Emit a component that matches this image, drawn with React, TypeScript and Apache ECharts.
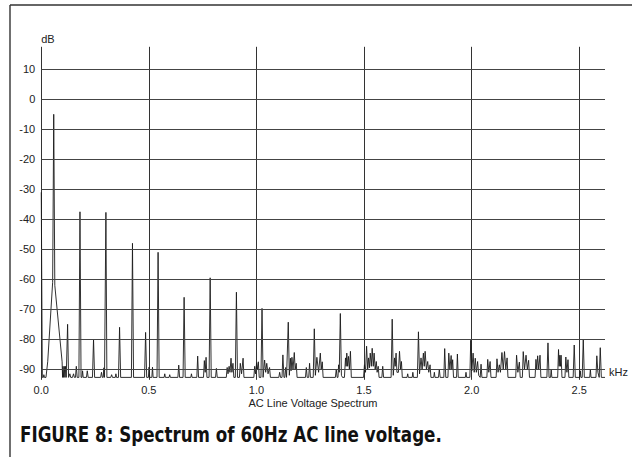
import React, { useEffect, useRef } from "react";
import * as echarts from "echarts";

// Axis ticks
const xTickStep = 0.5;
const xMax = 2.62;
const dbTicks = [10, 0, -10, -20, -30, -40, -50, -60, -70, -80, -90];
const dbMin = -93.5;
const dbMax = 17.5;

// Spectrum points [kHz, dB]
const band0to05: [number, number][] = [
  [0.0, -31], [0.005, -92.7], [0.01, -92.7], [0.012, -91.8], [0.015, -92.7], [0.022, -92.7],
  [0.03, -87.5], [0.053, -61], [0.058, -5], [0.063, -62], [0.097, -87.5], [0.099, -92.7],
  [0.101, -89], [0.104, -92.7], [0.107, -89], [0.11, -92.7], [0.113, -89], [0.116, -92.7],
  [0.118, -92.7], [0.1225, -75], [0.127, -92.7],
  [0.133, -91.5], [0.137, -92.7], [0.145, -92.7], [0.15, -91.5], [0.154, -92.7], [0.159, -92.7], [0.163, -89], [0.167, -92.7],
  [0.175, -92.7], [0.18, -37.5], [0.185, -92.7],
  [0.189, -92.7], [0.192, -90.5], [0.195, -92.7], [0.21, -92.7], [0.214, -90.5], [0.218, -92.7],
  [0.238, -92.7], [0.243, -80], [0.248, -92.7],
  [0.276, -92.7], [0.28, -91], [0.284, -92.7], [0.288, -92.7], [0.291, -89.5], [0.294, -92.7],
  [0.296, -92.7], [0.3005, -37.7], [0.305, -92.7],
  [0.323, -92.7], [0.327, -91.8], [0.331, -92.7], [0.344, -92.7], [0.347, -91.5], [0.35, -92.7],
  [0.359, -92.7], [0.364, -76], [0.369, -92.7],
  [0.419, -92.7], [0.424, -48], [0.429, -92.7],
  [0.48, -92.7], [0.485, -77.7], [0.49, -92.7],
  [0.498, -92.7], [0.501, -89.3], [0.504, -92.7], [0.514, -92.7], [0.517, -89.3], [0.52, -92.7],
];

const band05to10: [number, number][] = [
  [0.538, -92.7], [0.543, -51], [0.548, -92.7],
  [0.571, -92.7], [0.574, -91.5], [0.577, -92.7], [0.594, -92.7], [0.597, -91.8], [0.6, -92.7],
  [0.635, -92.7], [0.639, -88.6], [0.643, -92.7],
  [0.659, -92.7], [0.664, -66], [0.669, -92.7],
  [0.695, -92.7], [0.698, -91.5], [0.701, -92.7], [0.723, -92.7], [0.727, -85.6], [0.731, -92.7],
  [0.754, -92.7], [0.758, -87.1], [0.762, -91], [0.766, -86], [0.77, -92.7],
  [0.78, -92.7], [0.785, -59.5], [0.79, -92.7],
  [0.81, -92.7], [0.814, -89.7], [0.818, -92.7],
  [0.86, -92.7], [0.864, -89.4], [0.868, -91.5], [0.873, -89], [0.877, -91], [0.882, -86.3], [0.886, -91], [0.891, -88], [0.895, -92.7],
  [0.902, -92.7], [0.907, -64.3], [0.912, -92.7],
  [0.921, -92.7], [0.925, -88], [0.931, -91.5], [0.938, -86.3], [0.942, -92.7],
  [0.988, -92.7], [0.992, -89], [0.996, -91.5], [1.001, -87.8], [1.005, -90], [1.009, -87.5], [1.013, -92.7],
];

const band10to15: [number, number][] = [
  [1.021, -92.7], [1.026, -69.7], [1.031, -92.7],
  [1.034, -92.7], [1.038, -86.9], [1.043, -91], [1.048, -88], [1.054, -91.5], [1.061, -89.4], [1.065, -92.7],
  [1.104, -92.7], [1.108, -91], [1.112, -92.7], [1.119, -92.7], [1.123, -85.2], [1.128, -92.7], [1.132, -92.7], [1.136, -89.4], [1.14, -92.7],
  [1.143, -92.7], [1.148, -74.3], [1.153, -92],
  [1.158, -86.3], [1.161, -90.5], [1.165, -86], [1.17, -90], [1.176, -84.4], [1.18, -90], [1.185, -88], [1.189, -92.7],
  [1.228, -92.7], [1.232, -89.4], [1.236, -92.7], [1.243, -92.7], [1.247, -88], [1.251, -92.7],
  [1.264, -92.7], [1.269, -76.5], [1.274, -92],
  [1.281, -86], [1.289, -91], [1.297, -84.6], [1.301, -90], [1.306, -87.5], [1.31, -92.7],
  [1.367, -92.7], [1.371, -90], [1.375, -92.7], [1.379, -92.7], [1.382, -88.5], [1.385, -91],
  [1.39, -71.4], [1.395, -92],
  [1.4, -92.7], [1.409, -92.7], [1.414, -86.2], [1.417, -89], [1.42, -84.6], [1.424, -89], [1.428, -85.7], [1.432, -90], [1.437, -84], [1.441, -92.7],
  [1.498, -92.7], [1.502, -88.5], [1.507, -91], [1.512, -82.3], [1.517, -90], [1.521, -86.2], [1.525, -89.5], [1.529, -84.6],
  [1.534, -89], [1.538, -83], [1.543, -89], [1.547, -84.6], [1.552, -90], [1.557, -87.4], [1.561, -91], [1.566, -89], [1.57, -92.7],
];

const band15to20: [number, number][] = [
  [1.583, -92.7], [1.587, -89], [1.591, -92.7],
  [1.626, -92.7], [1.631, -73.3], [1.636, -92],
  [1.642, -86.2], [1.645, -89], [1.649, -84.6], [1.653, -91], [1.66, -91], [1.665, -84], [1.67, -90], [1.674, -87.4], [1.678, -92.7],
  [1.7, -92.7], [1.703, -91.5], [1.706, -92.7], [1.724, -92.7], [1.727, -91], [1.73, -92.7],
  [1.748, -92.7], [1.753, -77.5], [1.758, -91.5],
  [1.765, -86.2], [1.77, -90], [1.776, -84.6], [1.78, -89], [1.784, -84], [1.79, -90], [1.796, -87.4], [1.801, -91], [1.807, -88.5], [1.811, -92.7],
  [1.824, -92.7], [1.827, -91], [1.83, -92.7], [1.846, -92.7], [1.85, -90], [1.854, -92.7],
  [1.871, -92.7], [1.875, -83.1], [1.88, -92.7],
  [1.89, -92.7], [1.894, -84.6], [1.899, -90], [1.905, -85.4], [1.908, -90], [1.912, -86.8], [1.916, -92.7],
  [1.93, -92.7], [1.934, -84.9], [1.938, -92.7],
  [1.971, -92.7], [1.974, -91], [1.977, -92.7],
  [1.992, -92.7], [1.996, -80.3], [2.001, -90.5],
];

const band20to26: [number, number][] = [
  [2.007, -84.6], [2.012, -91], [2.017, -86.3], [2.022, -91], [2.028, -87.4], [2.033, -92], [2.04, -92.7], [2.044, -88.3], [2.048, -92.7],
  [2.071, -92.7], [2.075, -86.7], [2.08, -91], [2.086, -87.4], [2.09, -92.7],
  [2.114, -92.7], [2.118, -86.5], [2.123, -91], [2.129, -88.5], [2.134, -91], [2.141, -84.4], [2.147, -90], [2.153, -84.1], [2.159, -90], [2.165, -86.2], [2.169, -92.7],
  [2.205, -92.7], [2.209, -85.3], [2.215, -91], [2.222, -87.6], [2.226, -92.7],
  [2.236, -92.7], [2.24, -84.1], [2.246, -90], [2.253, -85.3], [2.259, -90], [2.265, -87], [2.269, -92.7],
  [2.295, -92.7], [2.299, -86.7], [2.303, -90], [2.307, -85.5], [2.312, -90], [2.318, -85.3], [2.322, -92.7],
  [2.35, -92.7], [2.355, -81.2], [2.36, -92.7],
  [2.367, -92.7], [2.37, -90], [2.373, -92.7],
  [2.4, -92.7], [2.404, -83.4], [2.407, -89], [2.41, -85.3], [2.413, -89], [2.416, -85.3], [2.42, -92.7],
  [2.434, -92.7], [2.438, -85.9], [2.443, -91], [2.448, -86.8], [2.452, -92.7],
  [2.472, -92.7], [2.477, -81.9], [2.482, -92.7],
  [2.502, -92.7], [2.505, -90.5], [2.508, -92.7], [2.514, -92.7], [2.519, -80], [2.524, -92.7],
  [2.549, -92.7], [2.552, -90], [2.555, -92.7],
  [2.578, -92.7], [2.582, -85.5], [2.587, -91], [2.593, -92.7], [2.598, -82.8], [2.603, -92.7], [2.62, -92.7],
];

const spectrum = [...band0to05, ...band05to10, ...band10to15, ...band15to20, ...band20to26];

const TEXT_FONT = '"Liberation Sans", Arial, Helvetica, sans-serif';
const CAPTION_FONT = '"DejaVu Sans Condensed", "Liberation Sans", sans-serif';

export default function App() {
  const ref = useRef<HTMLDivElement>(null);

  useEffect(() => {
    if (!ref.current) return;
    const chart = echarts.init(ref.current, undefined, { renderer: "svg" });
    chart.setOption({
      animation: false,
      backgroundColor: "#ffffff",
      grid: { left: 41.25, right: 27, top: 46.8, bottom: 77.2 },
      xAxis: {
        type: "value",
        min: 0,
        max: xMax,
        interval: xTickStep,
        axisLine: { show: false, onZero: false },
        axisTick: { show: false },
        axisLabel: {
          show: true,
          margin: 5,
          fontSize: 11,
          color: "#222",
          fontFamily: TEXT_FONT,
          showMaxLabel: false,
          formatter: (v: number) => v.toFixed(1),
        },
        splitLine: { show: true, showMaxLine: false, lineStyle: { color: "#333", width: 1 } },
      },
      yAxis: {
        type: "value",
        min: dbMin,
        max: dbMax,
        name: "dB",
        nameLocation: "end",
        nameGap: 2,
        nameTextStyle: { fontSize: 11, color: "#222", fontFamily: TEXT_FONT, align: "left" },
        axisLine: { show: false, onZero: false },
        axisTick: { show: false },
        axisLabel: { show: false },
        splitLine: { show: false },
      },
      series: [
        {
          type: "line",
          data: spectrum,
          showSymbol: false,
          symbol: "none",
          lineStyle: { color: "#1a1a1a", width: 0.9 },
          silent: true,
          z: 3,
          markLine: {
            silent: true,
            symbol: ["none", "none"],
            animation: false,
            lineStyle: { color: "#444", width: 1, type: "solid" },
            label: {
              show: true,
              position: "start",
              distance: 6,
              fontSize: 11,
              color: "#222",
              fontFamily: TEXT_FONT,
              formatter: (p: any) => String(p.value),
            },
            data: dbTicks.map((v) => ({ yAxis: v })),
          },
        },
      ],
      graphic: [
        { type: "line", shape: { x1: 10, y1: 5, x2: 632, y2: 5 }, style: { stroke: "#333", lineWidth: 1.6 } },
        { type: "line", shape: { x1: 10, y1: 5, x2: 10, y2: 457 }, style: { stroke: "#333", lineWidth: 1.4 } },
        {
          type: "text",
          x: 609,
          y: 372,
          style: {
            text: "kHz",
            fontSize: 11,
            fill: "#222",
            fontFamily: TEXT_FONT,
            textAlign: "left",
            textVerticalAlign: "middle",
          },
        },
        {
          type: "text",
          x: 313,
          y: 403,
          style: {
            text: "AC Line Voltage Spectrum",
            fontSize: 11,
            fill: "#222",
            fontFamily: TEXT_FONT,
            textAlign: "center",
            textVerticalAlign: "middle",
          },
        },
        {
          type: "text",
          x: 20,
          y: 434,
          scaleX: 0.845,
          style: {
            text: "FIGURE 8: Spectrum of 60Hz AC line voltage.",
            fontSize: 22,
            fontWeight: "bold",
            fill: "#111",
            fontFamily: CAPTION_FONT,
            textAlign: "left",
            textVerticalAlign: "middle",
          },
        },
      ],
    });
    return () => chart.dispose();
  }, []);

  return (
    <div
      ref={ref}
      style={{ position: "fixed", left: 0, top: 0, width: 632, height: 457, background: "#fff" }}
    />
  );
}
